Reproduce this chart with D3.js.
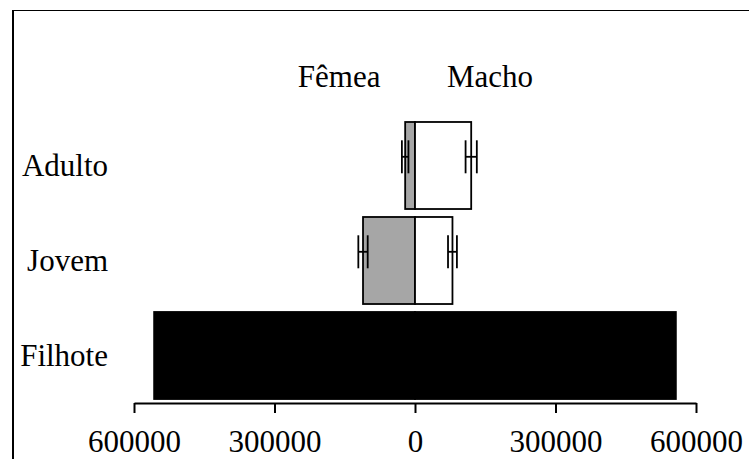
<!DOCTYPE html>
<html>
<head>
<meta charset="utf-8">
<script src="https://cdn.jsdelivr.net/npm/d3@7"></script>
<style>
  html, body { margin: 0; padding: 0; background: #fff; }
  svg { display: block; }
  text { font-family: "Liberation Serif", "Times New Roman", serif; fill: #000; }
</style>
</head>
<body>
<div id="chart"></div>
<script>
// Age classes, top to bottom
const classes = ["Adulto", "Jovem", "Filhote"];
// Estimated population per class and sex
const femea = [21000, 111000, 557000];
const macho = [120000, 80000, 557000];
// Error (± half-width); null where no bar is drawn
const femeaErr = [7000, 10000, null];
const machoErr = [12000, 9500, null];
// Axis tick values and side labels
const tickValues = [-600000, -300000, 0, 300000, 600000];
const sideLabels = ["Fêmea", "Macho"];
const sidePos = [-162000, 160000];
// Fill per class: females, males
const femeaFill = ["#a6a6a6", "#a6a6a6", "#000000"];
const machoFill = ["#ffffff", "#ffffff", "#000000"];

const W = 749, H = 459;
const svg = d3.select("#chart").append("svg").attr("width", W).attr("height", H);

const x = d3.scaleLinear().domain([-600000, 600000]).range([134, 696]);
const y = d3.scaleBand().domain(classes).range([118, 403])
  .paddingInner(0.084).paddingOuter(0.042);

// Frame lines (top and left)
svg.append("line").attr("x1", 12).attr("x2", W).attr("y1", 10.5).attr("y2", 10.5)
  .attr("stroke", "#000").attr("stroke-width", 1.2);
svg.append("line").attr("x1", 13).attr("x2", 13).attr("y1", 10).attr("y2", H)
  .attr("stroke", "#000").attr("stroke-width", 2);

const rows = classes.map((c, i) => ({
  c, f: femea[i], m: macho[i], fe: femeaErr[i], me: machoErr[i],
  ff: femeaFill[i], mf: machoFill[i]
}));

// Female bars (left of zero)
svg.append("g").selectAll("rect").data(rows).join("rect")
  .attr("x", d => x(-d.f)).attr("y", d => y(d.c))
  .attr("width", d => x(0) - x(-d.f)).attr("height", y.bandwidth())
  .attr("fill", d => d.ff).attr("stroke", "#000").attr("stroke-width", 1.8);

// Male bars (right of zero)
svg.append("g").selectAll("rect").data(rows).join("rect")
  .attr("x", x(0)).attr("y", d => y(d.c))
  .attr("width", d => x(d.m) - x(0)).attr("height", y.bandwidth())
  .attr("fill", d => d.mf).attr("stroke", "#000").attr("stroke-width", 1.8);

// Error bars
const errs = [];
rows.forEach(d => {
  if (d.fe != null) errs.push({ c: d.c, v: -d.f, e: d.fe });
  if (d.me != null) errs.push({ c: d.c, v: d.m, e: d.me });
});
const eg = svg.append("g").attr("stroke", "#000").attr("stroke-width", 1.8);
const capH = 16.5;
errs.forEach(d => {
  const yc = y(d.c) + y.bandwidth() * 0.4;
  const x1 = x(d.v - d.e), x2 = x(d.v + d.e);
  eg.append("line").attr("x1", x1).attr("x2", x2).attr("y1", yc).attr("y2", yc);
  eg.append("line").attr("x1", x1).attr("x2", x1).attr("y1", yc - capH).attr("y2", yc + capH);
  eg.append("line").attr("x1", x2).attr("x2", x2).attr("y1", yc - capH).attr("y2", yc + capH);
});

// Bottom axis with absolute-value labels
const axis = d3.axisBottom(x).tickValues(tickValues)
  .tickFormat(d => String(Math.abs(d))).tickSize(10).tickSizeOuter(0).tickPadding(17);
const ag = svg.append("g").attr("transform", "translate(0,403)").call(axis);
ag.select(".domain").attr("stroke", "#000").attr("stroke-width", 2);
ag.selectAll(".tick line").attr("stroke", "#000").attr("stroke-width", 2);
ag.selectAll(".tick text").attr("font-family", "Liberation Serif, Times New Roman, serif")
  .attr("font-size", 31).attr("fill", "#000");

// Category labels
svg.append("g").selectAll("text").data(classes).join("text")
  .attr("x", 108).attr("y", d => y(d) + y.bandwidth() / 2 + 10.5)
  .attr("text-anchor", "end").attr("font-size", 31).text(d => d);

// Sex labels
svg.append("g").selectAll("text").data(sideLabels).join("text")
  .attr("x", (d, i) => x(sidePos[i])).attr("y", 87)
  .attr("text-anchor", "middle").attr("font-size", 31).text(d => d);
</script>
</body>
</html>
